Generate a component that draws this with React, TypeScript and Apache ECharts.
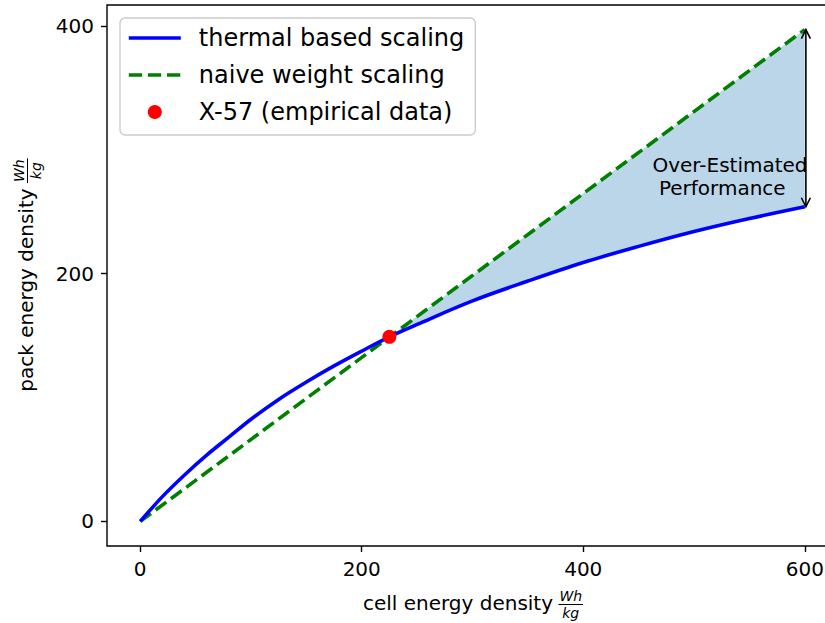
import React, { useEffect, useRef } from "react";
import * as echarts from "echarts";

const FONT = "DejaVu Sans";

const SERIES_NAMES = ["thermal based scaling", "naive weight scaling", "X-57 (empirical data)"];
// thermal based scaling curve
const THERMAL_X = [0, 20, 40, 60, 80, 100, 125, 150, 175, 200, 225, 250, 300, 350, 400, 450, 500, 550, 600];
const THERMAL_Y = [0, 20, 37.5, 53.5, 68, 82.5, 98.5, 112.5, 125.5, 137.5, 149, 159, 178, 194, 209, 222, 234, 244.5, 254];
// naive weight scaling (straight line)
const NAIVE_X = [0, 600];
const NAIVE_Y = [0, 397];
// X-57 empirical point
const X57_X = [225];
const X57_Y = [149];
// ticks
const X_TICKS = [0, 200, 400, 600];
const Y_TICKS = [0, 200, 400];
// annotation arrow (data units)
const ARROW_X = 601;
const ARROW_TOP = 397;
const ARROW_BOTTOM = 254;
const ANNOTATION_LINES = ["Over-Estimated", "Performance"];
const ANNOTATION_POS = [
  [532.5, 288],
  [525.5, 269],
];
const X_LABEL = "cell energy density";
const Y_LABEL = "pack energy density";
const UNIT_NUM = "Wh";
const UNIT_DEN = "kg";

function textWidth(t: string, font: string): number {
  const c = document.createElement("canvas").getContext("2d");
  if (!c) return t.length * 10;
  c.font = font;
  return c.measureText(t).width;
}

function unitLabel(main: string) {
  const mainW = textWidth(main, `20px "${FONT}"`);
  const space = textWidth(" ", `20px "${FONT}"`);
  const fracW = textWidth(UNIT_NUM, `italic 14px "${FONT}"`);
  const total = mainW + space + fracW;
  const x0 = -total / 2;
  const fc = x0 + mainW + space + fracW / 2;
  return [
    {
      type: "text",
      style: {
        text: main, x: x0, y: 0, fill: "#000", fontSize: 20, fontFamily: FONT,
        textAlign: "left", textVerticalAlign: "middle", align: "left", verticalAlign: "middle",
      },
    },
    {
      type: "text",
      style: {
        text: UNIT_NUM, x: fc, y: -7, fill: "#000", fontSize: 14, fontStyle: "italic", fontFamily: FONT,
        textAlign: "center", textVerticalAlign: "middle", align: "center", verticalAlign: "middle",
      },
    },
    {
      type: "line",
      shape: { x1: fc - fracW / 2 - 1, y1: 1.5, x2: fc + fracW / 2 + 1, y2: 1.5 },
      style: { stroke: "#000", lineWidth: 1 },
    },
    {
      type: "text",
      style: {
        text: UNIT_DEN, x: fc, y: 9.5, fill: "#000", fontSize: 14, fontStyle: "italic", fontFamily: FONT,
        textAlign: "center", textVerticalAlign: "middle", align: "center", verticalAlign: "middle",
      },
    },
  ];
}

export default function App() {
  const ref = useRef<HTMLDivElement>(null);

  useEffect(() => {
    document.body.style.margin = "0";
    if (!ref.current) return;
    const chart = echarts.init(ref.current, null, { renderer: "svg" });

    const thermalData = THERMAL_X.map((x, i) => [x, THERMAL_Y[i]]);
    const naiveData = NAIVE_X.map((x, i) => [x, NAIVE_Y[i]]);
    const x57Data = X57_X.map((x, i) => [x, X57_Y[i]]);

    const axisCommon = {
      type: "value" as const,
      axisLine: { show: false, onZero: false },
      axisTick: { show: true, inside: false, length: 6, lineStyle: { color: "#000", width: 1.4 } },
      splitLine: { show: false },
    };

    const hiddenDot = { color: "rgba(0,0,0,0)", borderWidth: 0, opacity: 0 };

    const option: any = {
      animation: false,
      backgroundColor: "#fff",
      grid: {
        left: 107, top: 5, width: 731, height: 541,
        show: true, borderColor: "#000", borderWidth: 1.4,
        containLabel: false, outerBoundsMode: "none",
      },
      xAxis: {
        ...axisCommon,
        position: "bottom",
        min: -30, max: 630,
        axisTick: { ...axisCommon.axisTick, customValues: X_TICKS },
        axisLabel: { customValues: X_TICKS, margin: 13, fontSize: 20, color: "#000", fontFamily: FONT },
      },
      yAxis: {
        ...axisCommon,
        position: "left",
        min: -19.85, max: 416.85,
        axisTick: { ...axisCommon.axisTick, customValues: Y_TICKS },
        axisLabel: { customValues: Y_TICKS, margin: 13, fontSize: 20, color: "#000", fontFamily: FONT },
      },
      legend: {
        orient: "vertical",
        left: 120, top: 18,
        padding: [6, 11, 9, 7],
        itemWidth: 52, itemHeight: 14, itemGap: 9,
        selectedMode: false,
        backgroundColor: "rgba(255,255,255,0.8)",
        borderColor: "#cccccc", borderWidth: 1.4, borderRadius: 5,
        textStyle: { fontSize: 24, fontFamily: FONT, color: "#000", lineHeight: 28, padding: [0, 0, 0, 13] },
        lineStyle: { width: 3.6 },
        data: [
          { name: SERIES_NAMES[0], itemStyle: hiddenDot },
          { name: SERIES_NAMES[1], itemStyle: hiddenDot },
          { name: SERIES_NAMES[2], icon: "circle", itemStyle: { color: "#ff0000", opacity: 1 } },
        ],
      },
      graphic: [
        { type: "group", x: 472.5, y: 603, children: unitLabel(X_LABEL) },
        { type: "group", x: 26, y: 275.5, rotation: Math.PI / 2, children: unitLabel(Y_LABEL) },
      ],
      series: [
        {
          type: "custom",
          z: 1,
          silent: true,
          data: [[X57_X[0], X57_Y[0]]],
          renderItem: (_p: any, api: any) => {
            const pts: number[][] = [
              api.coord([X57_X[0], X57_Y[0]]),
              api.coord([NAIVE_X[NAIVE_X.length - 1], NAIVE_Y[NAIVE_Y.length - 1]]),
            ];
            for (let i = THERMAL_X.length - 1; i >= 0; i--) {
              if (THERMAL_X[i] >= X57_X[0]) pts.push(api.coord([THERMAL_X[i], THERMAL_Y[i]]));
            }
            return { type: "polygon", shape: { points: pts }, style: { fill: "rgba(31,119,180,0.3)" } };
          },
        },
        {
          name: SERIES_NAMES[0],
          type: "line",
          z: 3,
          data: thermalData,
          symbol: "none",
          showSymbol: false,
          smooth: 0.35,
          lineStyle: { color: "#0000ff", width: 3.6 },
          itemStyle: { color: "#0000ff" },
        },
        {
          name: SERIES_NAMES[1],
          type: "line",
          z: 2,
          data: naiveData,
          symbol: "none",
          showSymbol: false,
          lineStyle: { color: "#008000", width: 3.6, type: [13.3, 5.8] },
          itemStyle: { color: "#008000" },
        },
        {
          name: SERIES_NAMES[2],
          type: "scatter",
          z: 4,
          data: x57Data,
          symbol: "circle",
          symbolSize: 14,
          itemStyle: { color: "#ff0000", opacity: 1 },
        },
        {
          type: "custom",
          z: 5,
          silent: true,
          data: [[ARROW_X, ARROW_TOP]],
          renderItem: (_p: any, api: any) => {
            const top = api.coord([ARROW_X, ARROW_TOP]);
            const bot = api.coord([ARROW_X, ARROW_BOTTOM]);
            const hw = 4.5;
            const hl = 9;
            const stroke = { stroke: "#000", lineWidth: 1.6, fill: "none" };
            const children: any[] = [
              { type: "line", shape: { x1: top[0], y1: top[1], x2: bot[0], y2: bot[1] }, style: stroke },
              {
                type: "polyline",
                shape: { points: [[top[0] - hw, top[1] + hl], top, [top[0] + hw, top[1] + hl]] },
                style: stroke,
              },
              {
                type: "polyline",
                shape: { points: [[bot[0] - hw, bot[1] - hl], bot, [bot[0] + hw, bot[1] - hl]] },
                style: stroke,
              },
            ];
            ANNOTATION_LINES.forEach((t, i) => {
              const p = api.coord(ANNOTATION_POS[i]);
              children.push({
                type: "text",
                style: {
                  text: t, x: p[0], y: p[1], fill: "#000", fontSize: 20, fontFamily: FONT,
                  textAlign: "center", textVerticalAlign: "middle", align: "center", verticalAlign: "middle",
                },
              });
            });
            return { type: "group", children };
          },
        },
      ],
    };

    chart.setOption(option);
    return () => chart.dispose();
  }, []);

  return <div ref={ref} style={{ width: 825, height: 623 }} />;
}
